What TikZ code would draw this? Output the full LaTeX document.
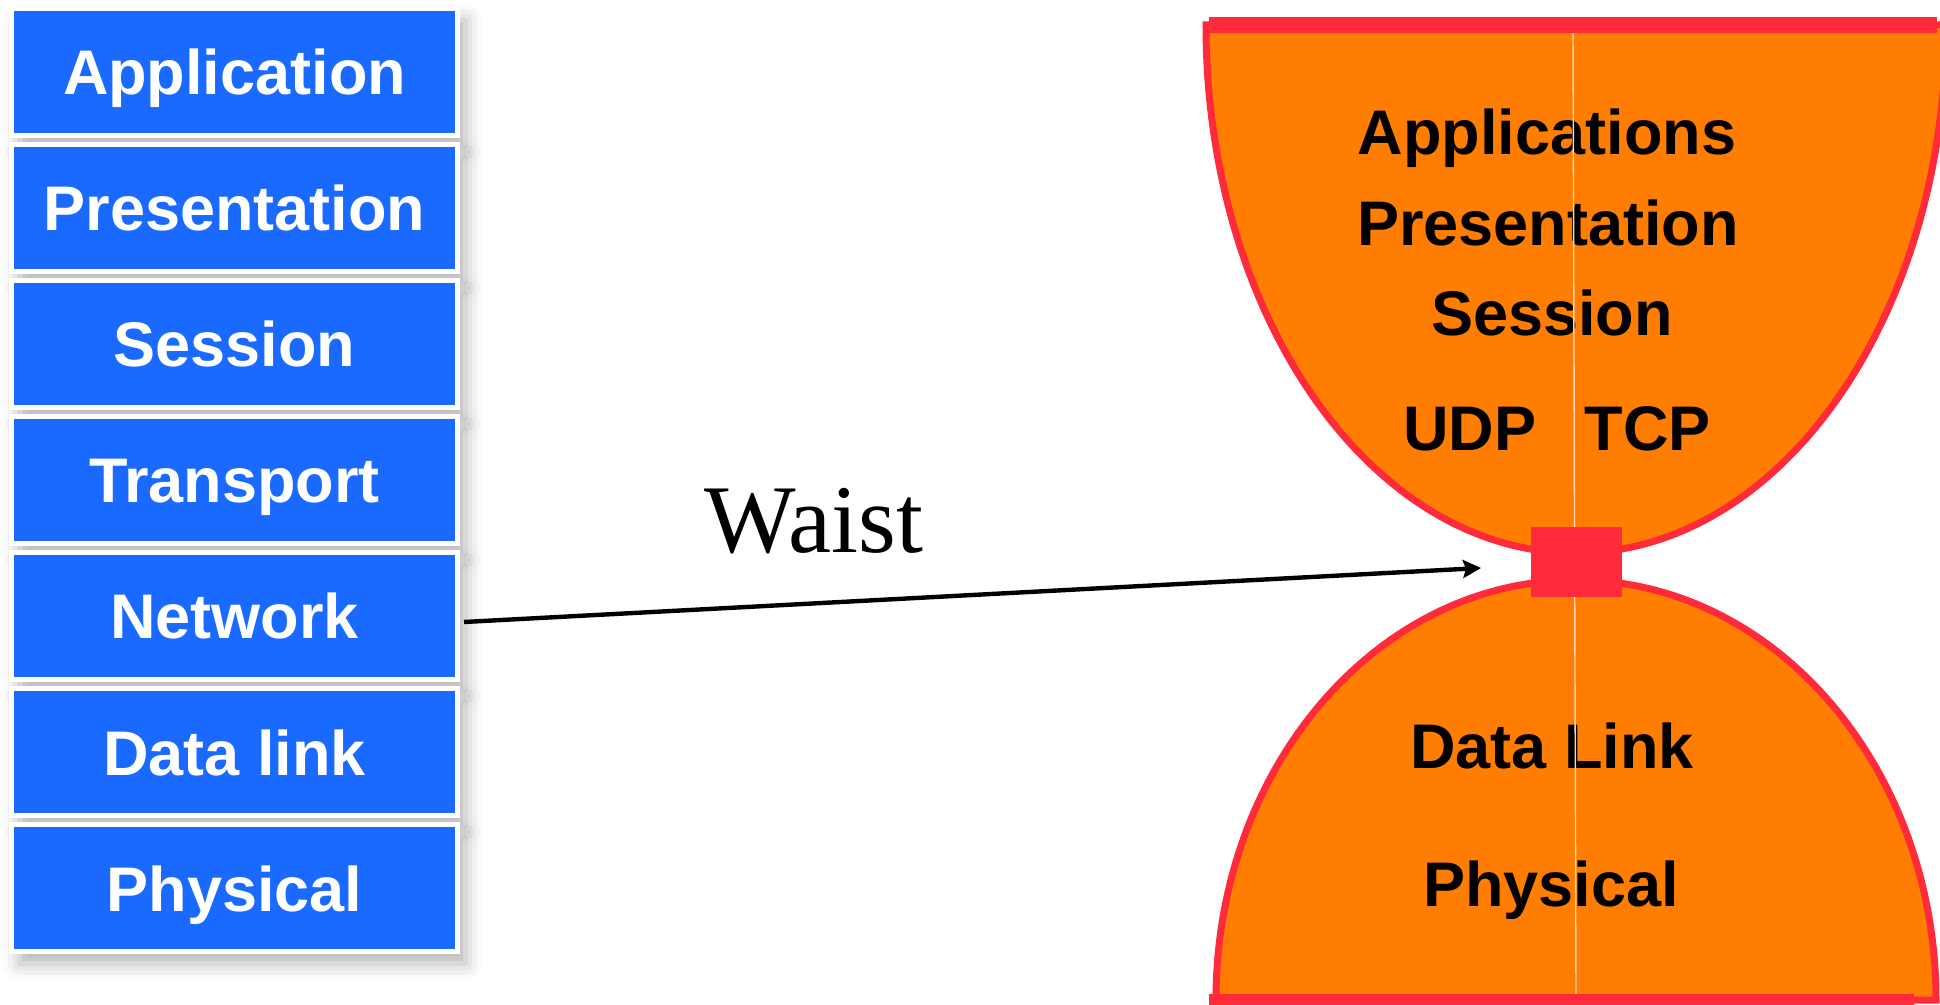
\documentclass[tikz,border=0pt]{standalone}
\usepackage{fontspec}
\newfontfamily\layerfont{Liberation Sans}
\newfontfamily\waistfont{Liberation Serif}
\usetikzlibrary{arrows.meta,shadows.blur}
\definecolor{osiblue}{RGB}{26,106,255}
\definecolor{glassorange}{RGB}{255,125,0}
\definecolor{glassred}{RGB}{255,42,58}
\definecolor{seamline}{RGB}{255,214,170}
\tikzset{
	osilayer/.style={rectangle, fill=osiblue, draw=white, line width=2.5pt,
		minimum width=223pt, minimum height=63.5pt, inner sep=0pt,
		text height=23pt, text depth=0pt, text=white,
		font=\layerfont\bfseries\fontsize{31.5pt}{36pt}\selectfont,
		blur shadow={shadow xshift=4pt, shadow yshift=-6pt, shadow blur radius=8pt, shadow opacity=30}},
	glasstext/.style={anchor=base, inner sep=0pt,
		font=\layerfont\bfseries\fontsize{31.5pt}{36pt}\selectfont},
	bowl/.style={fill=glassorange, draw=glassred, line width=3.5pt}
}
\begin{document}
\begin{tikzpicture}[
		x=0.5pt, y=-0.5pt,
		>={Stealth[length=9pt, width=9pt, inset=1.5pt]}
	]
	\useasboundingbox (0,0) rectangle (1940,1005);

	% OSI stack
	\node[osilayer] (app) at (234.5,72) {Application};
	\node[osilayer] (pres) at (234.5,208) {Presentation};
	\node[osilayer] (sess) at (234.5,344) {Session};
	\node[osilayer] (trans) at (234.5,480) {Transport};
	\node[osilayer] (net) at (234.5,616) {Network};
	\node[osilayer] (link) at (234.5,752) {Data link};
	\node[osilayer] (phys) at (234.5,888) {Physical};

	% hourglass
	\draw[bowl] (1206,25) arc[start angle=180, end angle=0, x radius=370, y radius=528] -- cycle;
	\draw[bowl] (1216,1000) arc[start angle=180, end angle=360, x radius=360, y radius=420] -- cycle;

	\node[glasstext] (gapps) at (1547,155) {Applications};
	\node[glasstext] (gpres) at (1548,246) {Presentation};
	\node[glasstext] (gsess) at (1552,336) {Session};
	\node[glasstext] (gudp) at (1470,451) {UDP};
	\node[glasstext] (gtcp) at (1647.5,451) {TCP};
	\node[glasstext] (glink) at (1552,769) {Data Link};
	\node[glasstext] (gphys) at (1551,906) {Physical};

	\draw[seamline, line width=0.7pt] (1573,33) -- (1576,994);
	\fill[glassred] (1531,527) rectangle (1622,597) coordinate (waistsq);
	\fill[glassred] (1209,17) rectangle (1937,33);
	\fill[glassred] (1209,994) rectangle (1914,1010);

	% waist arrow
	\node[font=\waistfont\fontsize{48.5pt}{54pt}\selectfont, anchor=base, inner sep=0pt] (waist) at (814,553) {Waist};
	\coordinate (waisttip) at (1481,568);
	\draw[->, line width=2.2pt] ([xshift=2pt, yshift=-3pt]net.east) -- (waisttip);
\end{tikzpicture}
\end{document}
